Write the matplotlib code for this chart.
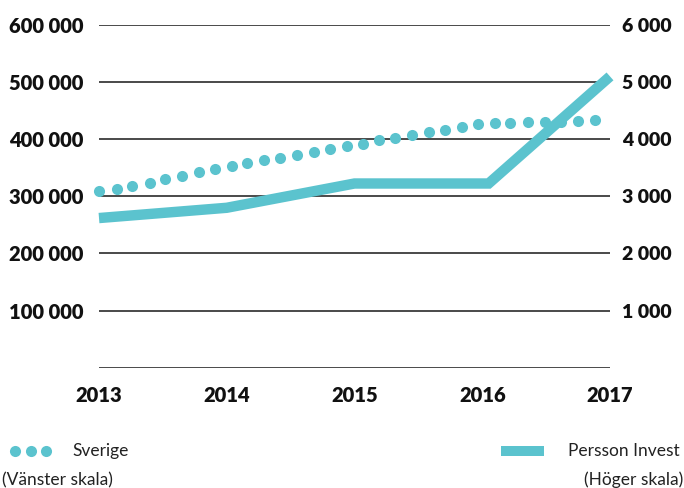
import matplotlib
matplotlib.use("Agg")
import matplotlib.pyplot as plt
from matplotlib.lines import Line2D
from matplotlib.patches import Rectangle

plt.rcParams['font.family'] = ['Lato', 'DejaVu Sans']

# Sverige (left scale)
sverige_x = [2013.00, 2013.14, 2013.26, 2013.40, 2013.52, 2013.65, 2013.78, 2013.91,
             2014.04, 2014.16, 2014.29, 2014.42, 2014.55, 2014.68, 2014.81, 2014.94,
             2015.07, 2015.19, 2015.32, 2015.45, 2015.58, 2015.71, 2015.84, 2015.97,
             2016.10, 2016.22, 2016.36, 2016.49, 2016.62, 2016.75, 2016.88]
sverige = [309000, 313000, 318000, 324000, 330000, 336000, 342000, 348000,
           353000, 359000, 363000, 367000, 373000, 378000, 383000, 388000,
           392000, 398000, 402000, 407000, 413000, 417000, 422000, 426000,
           428000, 429000, 430000, 431000, 431000, 432000, 433000]

# Persson Invest (right scale)
persson_x = [2013, 2014, 2015, 2016.05, 2017]
persson = [2620, 2800, 3225, 3225, 5100]

years = [2013, 2014, 2015, 2016, 2017]
left_ticks = [0, 100000, 200000, 300000, 400000, 500000, 600000]
left_labels = ["", "100 000", "200 000", "300 000", "400 000", "500 000", "600 000"]
right_ticks = [0, 1000, 2000, 3000, 4000, 5000, 6000]
right_labels = ["", "1 000", "2 000", "3 000", "4 000", "5 000", "6 000"]

teal = "#5BC3CE"
grid = "#3c3c3c"
W, H = 684, 488

fig = plt.figure(figsize=(6.84, 4.88), dpi=100)
ax = fig.add_axes([99 / W, 1 - 367.7 / H, (610 - 99) / W, (367.7 - 25) / H])
ax.set_xlim(2013, 2017)
ax.set_ylim(0, 600000)
for s in ax.spines.values():
    s.set_visible(False)
for v in left_ticks:
    ax.axhline(v, color=grid, lw=1.3, zorder=0)

ax.set_yticks(left_ticks)
ax.set_yticklabels(left_labels)
ax.set_xticks(years)
ax.set_xticklabels([str(y) for y in years])
ax.tick_params(axis='y', length=0, pad=11, labelsize=14.5)
ax.tick_params(axis='x', length=0, pad=13, labelsize=14.5)
for lab in ax.get_yticklabels() + ax.get_xticklabels():
    lab.set_fontweight('heavy')
    lab.set_color('#111111')

ax.plot(sverige_x, sverige, linestyle='none', marker='o', markersize=8,
        color=teal, markeredgewidth=0, clip_on=False, zorder=3)

ax2 = ax.twinx()
ax2.set_ylim(0, 6000)
for s in ax2.spines.values():
    s.set_visible(False)
ax2.set_yticks(right_ticks)
ax2.set_yticklabels(right_labels)
ax2.tick_params(axis='y', length=0, pad=9, labelsize=14)
for lab in ax2.get_yticklabels():
    lab.set_fontweight('heavy')
    lab.set_color('#111111')

ax2.plot(persson_x, persson, color=teal, lw=7.5, solid_capstyle='butt',
         solid_joinstyle='miter', clip_on=False, zorder=4)

# legend, placed by hand like the original
ly = 1 - 451 / H
fig.add_artist(Line2D([15 / W, 31 / W, 46 / W], [ly] * 3, transform=fig.transFigure,
                      linestyle='none', marker='o', markersize=8, color=teal,
                      markeredgewidth=0))
fig.text(72 / W, ly, "Sverige", fontsize=12.5, va='center', ha='left', color='#222222')
fig.text(2 / W, 1 - 480 / H, "(Vänster skala)", fontsize=12.5, va='center', ha='left',
         color='#222222')
fig.add_artist(Rectangle((501 / W, 1 - 456 / H), 43 / W, 10 / H,
                         transform=fig.transFigure, color=teal, lw=0))
fig.text(568 / W, ly, "Persson Invest", fontsize=12.5, va='center', ha='left',
         color='#222222')
fig.text(683 / W, 1 - 480 / H, "(Höger skala)", fontsize=12.5, va='center', ha='right',
         color='#222222')

fig.savefig("out.png", dpi=100)
